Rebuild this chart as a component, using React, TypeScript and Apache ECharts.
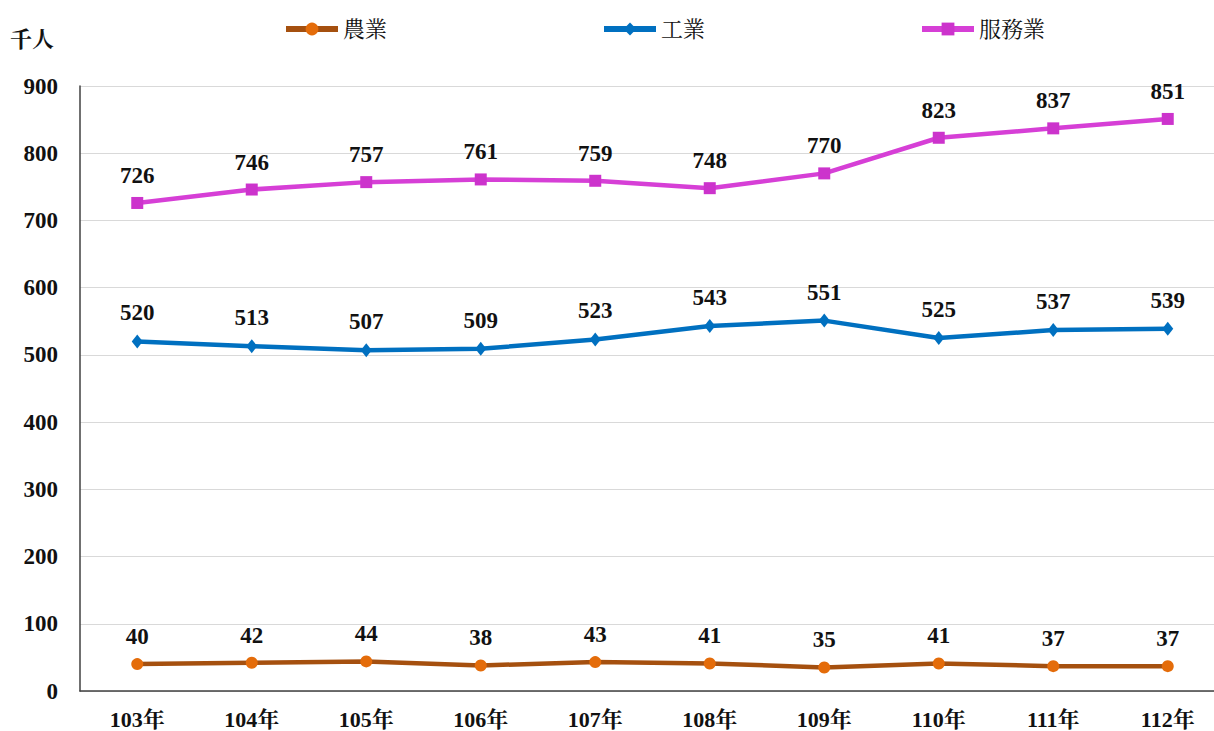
import React, { useEffect, useRef } from "react";
import * as echarts from "echarts";

const categories = ["103年", "104年", "105年", "106年", "107年", "108年", "109年", "110年", "111年", "112年"];
const agriculture = [40, 42, 44, 38, 43, 41, 35, 41, 37, 37];
const industry = [520, 513, 507, 509, 523, 543, 551, 525, 537, 539];
const services = [726, 746, 757, 761, 759, 748, 770, 823, 837, 851];
const seriesNames = ["農業", "工業", "服務業"];

const numFont = '"Liberation Serif", "Times New Roman", serif';
const cjkFont = '"Liberation Serif", "Noto Serif CJK TC", "Noto Sans CJK TC", serif';

export default function App() {
  const ref = useRef<HTMLDivElement>(null);
  useEffect(() => {
    document.body.style.margin = "0";
    document.body.style.overflow = "hidden";
    const chart = echarts.init(ref.current!, null, { renderer: "svg" });
    const label = {
      show: true,
      position: "top" as const,
      distance: 10,
      fontFamily: numFont,
      fontWeight: "bold" as const,
      fontSize: 23,
      color: "#111",
    };
    chart.setOption({
      animation: false,
      backgroundColor: "#fff",
      grid: { left: 80, right: 0, top: 86, bottom: 40, containLabel: false },
      legend: {
        top: 13,
        left: 278,
        itemGap: 214,
        itemWidth: 52,
        itemHeight: 16,
        lineStyle: { width: 6 },
        textStyle: { fontFamily: cjkFont, fontSize: 22, color: "#111" },
        data: seriesNames,
      },
      graphic: [
        {
          type: "text",
          left: 10,
          top: 28,
          style: { text: "千人", font: `bold 22px ${cjkFont}`, fill: "#111" },
        },
      ],
      xAxis: {
        type: "category",
        data: categories,
        boundaryGap: true,
        axisLine: { show: true, lineStyle: { color: "#404040", width: 1.5 } },
        axisTick: { show: false },
        axisLabel: {
          margin: 17,
          fontFamily: cjkFont,
          fontWeight: "bold",
          fontSize: 22,
          color: "#111",
        },
      },
      yAxis: {
        type: "value",
        min: 0,
        max: 900,
        interval: 100,
        axisLine: { show: true, lineStyle: { color: "#404040", width: 1.5 } },
        axisTick: { show: false },
        splitLine: { lineStyle: { color: "#D9D9D9", width: 1 } },
        axisLabel: {
          margin: 22,
          fontFamily: numFont,
          fontWeight: "bold",
          fontSize: 23,
          color: "#111",
        },
      },
      series: [
        {
          name: seriesNames[0],
          type: "line",
          data: agriculture,
          symbol: "circle",
          symbolSize: 12,
          lineStyle: { color: "#A5500F", width: 4.5 },
          itemStyle: { color: "#E46C0A" },
          label,
        },
        {
          name: seriesNames[1],
          type: "line",
          data: industry,
          symbol: "diamond",
          symbolSize: [11, 14],
          lineStyle: { color: "#0070C0", width: 4.5 },
          itemStyle: { color: "#0070C0" },
          label,
        },
        {
          name: seriesNames[2],
          type: "line",
          data: services,
          symbol: "rect",
          symbolSize: 12,
          lineStyle: { color: "#D63FD6", width: 4.5 },
          itemStyle: { color: "#CC33CC" },
          label,
        },
      ],
    });
    return () => chart.dispose();
  }, []);
  return <div ref={ref} style={{ width: 1225, height: 731 }} />;
}
